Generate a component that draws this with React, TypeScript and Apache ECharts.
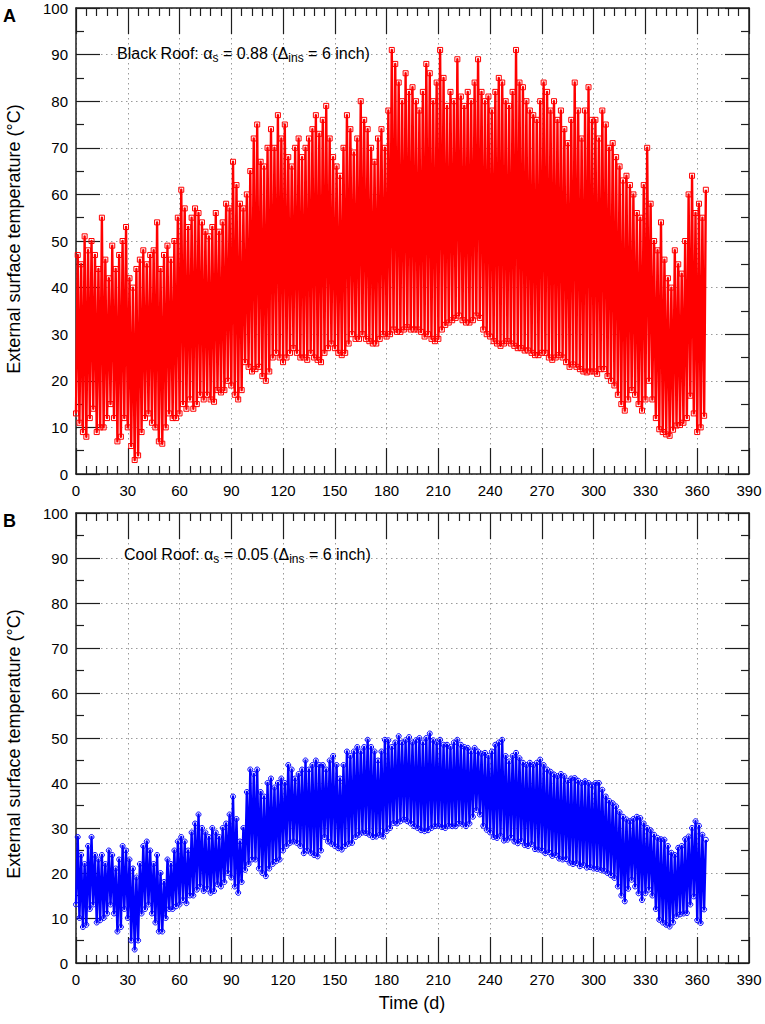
import React, { useEffect, useRef } from "react";
import * as echarts from "echarts";

// Day grid of the sampled envelopes (every 2 days, 0..364)
const DAYS: number[] = Array.from({ length: 183 }, (_, i) => i * 2);

// Panel A – Black roof: daily maximum / minimum (°C)
const BLACK_HI = [
  47, 45, 51, 48, 50, 47, 44, 55, 46, 42, 49, 44, 47, 50, 53,
  42, 40, 44, 46, 48, 45, 47, 48, 54, 44, 47, 49, 46, 50, 55,
  61, 57, 53, 55, 57, 56, 54, 52, 51, 53, 56, 52, 54, 58, 57,
  67, 62, 58, 57, 60, 65, 72, 75, 67, 66, 70, 74, 70, 77, 72,
  75, 68, 66, 70, 72, 68, 70, 72, 74, 77, 73, 76, 79, 72, 68,
  66, 64, 70, 77, 74, 69, 72, 80, 76, 74, 70, 67, 72, 74, 70,
  78, 91, 88, 84, 80, 86, 82, 83, 80, 78, 82, 88, 86, 80, 84,
  91, 85, 79, 82, 80, 89, 81, 79, 82, 80, 84, 89, 82, 80, 81,
  78, 82, 85, 84, 80, 79, 82, 91, 84, 83, 80, 78, 77, 76, 80,
  84, 82, 78, 80, 76, 78, 74, 71, 76, 84, 78, 72, 78, 83, 76,
  76, 72, 78, 75, 70, 71, 68, 66, 63, 64, 62, 60, 56, 55, 62,
  70, 58, 50, 48, 54, 46, 42, 40, 48, 45, 43, 50, 60, 64, 56,
  58, 55, 61,
];
const BLACK_LO = [
  13, 11, 9, 8, 12, 14, 9, 10, 10, 12, 15, 12, 7, 8, 12,
  10, 6, 3, 4, 9, 12, 13, 11, 10, 7, 6.5, 10, 13, 12, 12,
  13, 15, 14, 16, 14, 15, 17, 16, 17, 16, 15.5, 18, 17.5, 18, 20,
  19, 17, 16, 18, 24, 23, 22, 22.5, 23, 21, 20, 22, 25, 26, 25,
  24, 25, 26, 27, 26, 25, 25, 24.5, 26, 25, 24.5, 24, 26, 27, 28,
  27, 26, 25.5, 26, 28, 30, 29, 29, 30, 29, 28.5, 28, 28, 29, 30,
  29.5, 30, 31, 30.5, 30.5, 31, 31.5, 31, 31, 31, 30.5, 29.5, 30, 29, 28.5,
  29, 31, 32, 32.5, 33, 33.5, 34, 33, 32.5, 32.5, 33, 34, 33.5, 31, 30,
  29.5, 28.5, 28, 27.5, 28, 28.5, 28, 27.5, 27, 27, 26.5, 26.5, 26, 25.5, 25.5,
  26, 26, 25, 24.5, 25, 25.5, 25, 24, 23, 23.5, 23, 22.5, 22, 21.8, 22,
  22, 21.5, 22.5, 22.5, 21, 20, 19, 17, 15, 13.6, 16, 18, 17, 15, 13.6,
  16, 20, 16, 12, 9.6, 9, 8.5, 8.2, 9.5, 10.4, 10.5, 11, 12, 16.8, 13,
  9, 10, 12.5,
];

// Panel B – Cool roof
const COOL_HI = [
  28, 24, 22, 26, 28, 24, 23, 24, 22, 25, 24, 21, 23, 26, 25,
  23, 21, 19, 22, 26, 27, 25, 22, 24, 20, 18, 23, 22, 25, 27,
  28, 27, 25, 29, 31, 33, 30, 29, 28, 30, 29, 28, 30, 31, 33,
  37, 32, 27, 30, 38, 43, 42, 43, 38, 37, 40, 41, 39, 40, 41,
  40, 44, 43, 41, 42, 43, 45, 43, 44, 45, 44, 44, 43, 45, 46,
  44, 41, 44, 47, 46, 47, 48, 47, 48, 49.6, 48, 47, 45, 47, 49.6,
  49.5, 48, 49, 50.4, 49, 49.5, 50.2, 49, 49.5, 50, 49, 50, 51, 49.5, 49,
  49.6, 48.5, 48.5, 48, 49, 49.6, 48.5, 48, 47.8, 47, 47.8, 47, 46.5, 46.7, 46,
  47, 48.5, 49, 49.6, 46, 44.8, 46, 46.7, 45.5, 44.5, 44, 44.5, 44, 44.5, 45.2,
  44, 43, 42.5, 41.9, 41.5, 42, 41.5, 40.5, 41, 41.1, 40.5, 40, 40.4, 40, 39.5,
  40, 40, 38.5, 37, 36, 35.5, 34.8, 33.5, 32.5, 31.9, 31.5, 32, 32.5, 32.2, 31,
  30, 29.5, 28.5, 27.8, 27.5, 27.4, 26, 24.5, 24, 25.6, 26, 27.5, 28.1, 30, 31.5,
  30.5, 28.5, 27.4,
];
const COOL_LO = [
  13, 10, 8, 8.5, 12, 13, 9, 9.5, 10, 11, 13, 11, 7, 8, 12,
  10, 5, 3, 5, 11, 12, 13, 11, 9, 7, 7, 10, 12, 12, 12.6,
  13, 14, 13.3, 15, 15, 16.3, 17, 16, 16.5, 15.6, 16, 17.5, 17, 18, 20,
  19, 17, 15.6, 18, 20.7, 22, 23, 23, 21, 20, 19.3, 21, 22, 22.6, 23,
  25, 26, 26.7, 27, 26.7, 26, 24.4, 25, 24.5, 24, 23.7, 25, 28, 27, 26.5,
  26, 25.5, 25.2, 26, 26.5, 26.7, 28, 28.5, 29, 28.9, 28.5, 28, 28.1, 28.5, 28.1,
  29.3, 30, 31.1, 31, 31.5, 31.9, 31.5, 31, 30.4, 30, 29.5, 29.3, 29.5, 30, 30.4,
  30.5, 30.2, 30, 30.5, 30.4, 30.4, 31, 30.8, 30.4, 31, 32.5, 34, 33, 30.5, 29.6,
  29, 28, 27.8, 28.3, 27.2, 27.4, 27.9, 27, 26.6, 27.1, 26.2, 26, 26.4, 25.3, 25.2,
  25, 24.4, 24.6, 23.8, 24, 23.2, 23, 23.1, 22.3, 22, 22.2, 21.5, 21.8, 21.2, 21.3,
  21, 20.9, 20.7, 20.5, 20, 19.5, 18.9, 17, 15, 13.7, 16.5, 18.5, 17, 15.5, 14,
  15.5, 16.3, 15, 12, 9.6, 9, 8.5, 8.1, 9, 10.4, 10.8, 11, 11.1, 13, 14.8,
  9.5, 8.9, 11.9,
];

const FONT = "'Liberation Sans', Arial, Helvetica, sans-serif";
const AXIS_COLOR = "#1e1e1e";
const GRID_COLOR = "#9a9a9a";

function zigzag(lo: number[], hi: number[]): number[][] {
  const out: number[][] = [];
  DAYS.forEach((d, i) => {
    out.push([d, lo[i]]);
    out.push([d + 1, hi[i]]);
  });
  return out;
}

function xAxes(gridIndex: number) {
  const base: any = {
    type: "value",
    gridIndex,
    min: 0,
    max: 390,
    interval: 30,
    axisLine: { show: true, onZero: false, lineStyle: { color: AXIS_COLOR, width: 1.5 } },
    axisTick: { show: true, inside: true, length: 26, lineStyle: { color: AXIS_COLOR, width: 1.2 } },
    minorTick: { show: true, splitNumber: 5, length: 8, lineStyle: { color: AXIS_COLOR, width: 1.2 } },
  };
  return [
    {
      ...base,
      position: "bottom",
      axisLabel: { show: true, fontSize: 15, color: "#000", margin: 9, fontFamily: FONT },
      splitLine: { show: true, lineStyle: { color: GRID_COLOR, type: [1.5, 3.5], width: 1 } },
    },
    {
      ...base,
      position: "top",
      axisLabel: { show: false },
      splitLine: { show: false },
    },
  ];
}

function yAxes(gridIndex: number) {
  const base: any = {
    type: "value",
    gridIndex,
    min: 0,
    max: 100,
    interval: 10,
    axisLine: { show: true, onZero: false, lineStyle: { color: AXIS_COLOR, width: 1.5 } },
    axisTick: { show: true, inside: true, length: 24, lineStyle: { color: AXIS_COLOR, width: 1.2 } },
    minorTick: { show: true, splitNumber: 2, length: 8, lineStyle: { color: AXIS_COLOR, width: 1.2 } },
  };
  return [
    {
      ...base,
      position: "left",
      axisLabel: { show: true, fontSize: 15, color: "#000", margin: 8, fontFamily: FONT },
      splitLine: { show: true, lineStyle: { color: GRID_COLOR, type: [1.5, 3.5], width: 1 } },
    },
    {
      ...base,
      position: "right",
      axisLabel: { show: false },
      splitLine: { show: false },
    },
  ];
}

function annotation(x: number, y: number, roof: string, alpha: string) {
  return {
    type: "text",
    x,
    y,
    z: 100,
    style: {
      text: `{m|${roof}: α}{s|s}{m| = ${alpha} (Δ}{s|ins}{m| = 6 inch)}`,
      verticalAlign: "middle",
      align: "left",
      rich: {
        m: { fontSize: 16, fontFamily: FONT, fill: "#000", lineHeight: 22 },
        s: { fontSize: 12, fontFamily: FONT, fill: "#000", lineHeight: 12, verticalAlign: "bottom" },
      },
    },
  };
}

function yTitle(cy: number) {
  return {
    type: "text",
    x: 14,
    y: cy,
    rotation: Math.PI / 2,
    style: {
      text: "External surface temperature (°C)",
      font: `18px ${FONT}`,
      fill: "#000",
      align: "center",
      verticalAlign: "middle",
    },
  };
}

function roofSeries(name: string, axis: number, lo: number[], hi: number[], color: string, symbol: string) {
  return {
    type: "line",
    name,
    xAxisIndex: axis,
    yAxisIndex: axis,
    data: zigzag(lo, hi),
    symbol,
    symbolSize: 5,
    showSymbol: true,
    showAllSymbol: true,
    silent: true,
    lineStyle: { color, width: 2.4, join: "round" },
    itemStyle: { color: "rgba(255,255,255,0)", borderColor: color, borderWidth: 1 },
    z: 3,
  };
}

export default function App() {
  const ref = useRef<HTMLDivElement>(null);

  useEffect(() => {
    if (!ref.current) return;
    const chart = echarts.init(ref.current, null, { renderer: "svg" });
    const option: any = {
      animation: false,
      backgroundColor: "#fff",
      textStyle: { fontFamily: FONT },
      grid: [
        { left: 76, top: 8, width: 673, height: 466 },
        { left: 76, top: 513, width: 673, height: 450 },
      ],
      xAxis: [...xAxes(0), ...xAxes(1)],
      yAxis: [...yAxes(0), ...yAxes(1)],
      series: [
        roofSeries("Black Roof", 0, BLACK_LO, BLACK_HI, "#ff0000", "rect"),
        roofSeries("Cool Roof", 2, COOL_LO, COOL_HI, "#0000ff", "circle"),
      ],
      graphic: [
        {
          type: "text",
          x: 3,
          y: 7,
          style: { text: "A", font: `bold 18px ${FONT}`, fill: "#000" },
        },
        {
          type: "text",
          x: 3,
          y: 512,
          style: { text: "B", font: `bold 18px ${FONT}`, fill: "#000" },
        },
        annotation(117, 53, "Black Roof", "0.88"),
        annotation(124, 554, "Cool Roof", "0.05"),
        yTitle(239),
        yTitle(744),
        {
          type: "text",
          x: 412,
          y: 1003,
          style: {
            text: "Time (d)",
            font: `18px ${FONT}`,
            fill: "#000",
            align: "center",
            verticalAlign: "middle",
          },
        },
      ],
    };
    chart.setOption(option);
    return () => chart.dispose();
  }, []);

  return (
    <div
      ref={ref}
      style={{ position: "absolute", left: 0, top: 0, width: 765, height: 1024, background: "#fff" }}
    />
  );
}
